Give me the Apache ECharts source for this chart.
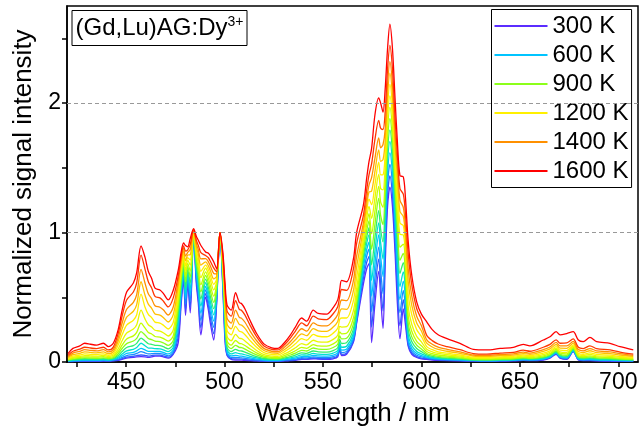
<!DOCTYPE html>
<html>
<head>
<meta charset="utf-8">
<script src="https://cdn.jsdelivr.net/npm/echarts@6/dist/echarts.min.js"></script>
<style>html,body{margin:0;padding:0;background:#fff;}#c{width:641px;height:439px;}</style>
</head>
<body>
<div id="c"></div>
<script>
// Wavelength grid (nm)
const wavelength = [420.5,423,426.5,429,432,435,438.5,441,443.5,446,
448,450.3,453.7,455.4,457.6,459.6,461.3,463,464.7,467.2,
468.9,471.4,474,476.5,478,479.2,480.2,481.3,482.6,484.3,
485.7,486.7,488,490.4,491.8,492.8,494.5,496,497.7,499.2,
500.3,501.3,503.4,505.6,507.5,508.7,510.4,513,516.3,520,
524,527,530.7,533.5,536,539.2,541.7,545.1,547.6,551.9,
555.2,557.5,558.5,559.5,562,565.4,567.1,570.5,572.2,573.4,
574.7,576.4,578.3,579.3,580.5,581.6,582.8,584,585.3,586.6,
587.8,589.1,590.8,591.8,593.3,595.1,597.6,600,602.7,605.5,
608.5,613,619.6,626.4,633.2,640,646.7,651.7,655.1,661.9,
665.3,668.4,670.4,673.8,677.1,679.7,682.2,685.6,689,695.8,
700.9,707.6];

const k300 = [0.003,0.004,0.005,0.005,0.005,0.005,0.006,0.006,0.008,0.012,
0.02,0.03,0.035,0.04,0.041,0.04,0.035,0.04,0.045,0.045,
0.04,0.03,0.06,0.15,0.45,0.63,0.36,0.60,0.38,0.97,
0.60,0.45,0.21,0.50,0.40,0.30,0.17,0.45,1.0,0.55,
0.15,0.05,0.02,0.015,0.015,0.015,0.012,0.01,0.008,0.006,
0.005,0.005,0.008,0.01,0.012,0.02,0.02,0.025,0.022,0.02,
0.025,0.04,0.10,0.05,0.06,0.15,0.30,0.60,0.72,0.76,
0.15,0.45,0.70,0.50,0.26,0.75,1.20,1.35,1.20,0.85,
0.45,0.18,0.41,0.30,0.12,0.06,0.035,0.025,0.02,0.015,
0.012,0.01,0.008,0.006,0.005,0.006,0.008,0.012,0.01,0.015,
0.03,0.06,0.03,0.02,0.08,0.015,0.01,0.01,0.008,0.006,0.005,0.005];

const k400 = [.004,.006,.007,.008,.008,.008,.009,.008,.011,.016,
.026,.038,.044,.050,.054,.052,.045,.049,.053,.053,
.047,.037,.067,.195,.482,.653,.403,.623,.426,.975,
.630,.489,.265,.528,.435,.342,.218,.472,1,.573,
.186,.056,.026,.023,.022,.022,.018,.015,.011,.008,
.007,.007,.010,.013,.016,.025,.024,.031,.027,.025,
.031,.047,.107,.059,.068,.160,.311,.643,.769,.815,
.27,.552,.794,.605,.394,.845,1.285,1.438,1.285,.933,
.55,.281,.481,.369,.132,.069,.042,.030,.026,.020,
.016,.013,.011,.008,.007,.008,.010,.015,.012,.018,
.033,.064,.034,.024,.083,.018,.013,.014,.011,.009,.007,.007];

const k500 = [.005,.008,.010,.011,.010,.010,.012,.010,.014,.022,
.035,.050,.058,.066,.08,.071,.062,.064,.066,.065,
.060,.048,.080,.240,.514,.676,.446,.646,.472,.980,
.659,.528,.320,.556,.470,.383,.267,.493,1,.596,
.222,.066,.035,.036,.033,.032,.028,.022,.017,.011,
.009,.009,.014,.018,.022,.033,.032,.040,.036,.034,
.041,.058,.118,.073,.082,.176,.328,.685,.818,.871,
.39,.654,.888,.71,.527,.94,1.371,1.526,1.371,1.017,
.65,.382,.553,.439,.152,.084,.052,.039,.032,.024,
.020,.017,.013,.010,.009,.010,.012,.017,.015,.021,
.037,.067,.037,.028,.086,.021,.016,.017,.014,.012,.010,.009];

const k600 = [.007,.011,.013,.015,.014,.014,.016,.014,.018,.029,
.047,.066,.075,.086,.106,.094,.082,.082,.082,.081,
.074,.062,.095,.284,.546,.700,.490,.670,.518,.984,
.689,.568,.376,.584,.506,.425,.315,.515,1,.620,
.258,.077,.047,.051,.046,.046,.040,.032,.023,.015,
.012,.012,.018,.024,.030,.042,.041,.051,.047,.045,
.053,.071,.132,.091,.099,.195,.349,.728,.867,.926,
.51,.757,.981,.815,.661,1.036,1.456,1.615,1.456,1.10,
.75,.482,.624,.508,.177,.103,.065,.049,.037,.029,
.024,.020,.016,.012,.010,.012,.014,.019,.017,.024,
.040,.070,.041,.032,.089,.024,.019,.021,.017,.014,.012,.010];

const k700 = [.009,.014,.017,.019,.018,.018,.020,.017,.022,.038,
.062,.086,.098,.112,.145,.125,.108,.107,.103,.101,
.094,.080,.115,.329,.578,.723,.533,.693,.564,.989,
.718,.607,.431,.612,.541,.466,.364,.536,1,.643,
.294,.093,.062,.072,.064,.063,.056,.044,.031,.021,
.017,.016,.024,.032,.040,.055,.053,.066,.061,.059,
.069,.088,.151,.114,.122,.220,.377,.771,.916,.981,
.63,.859,1.075,.92,.794,1.131,1.542,1.703,1.542,1.183,
.85,.583,.696,.577,.209,.127,.082,.063,.046,.036,
.030,.025,.020,.014,.013,.015,.018,.023,.020,.029,
.045,.076,.046,.038,.094,.029,.023,.026,.021,.018,.015,.013];

const k800 = [.012,.018,.022,.025,.024,.023,.026,.022,.027,.050,
.081,.112,.127,.144,.185,.163,.141,.137,.129,.127,
.118,.102,.139,.374,.61,.746,.576,.716,.61,.994,
.748,.646,.486,.64,.576,.508,.412,.558,1,.666,
.33,.112,.081,.098,.086,.085,.076,.060,.042,.027,
.022,.021,.032,.042,.053,.071,.067,.085,.079,.076,
.088,.110,.174,.143,.150,.252,.412,.814,.965,1.037,
.75,.961,1.169,1.025,.928,1.226,1.627,1.791,1.627,1.267,
.95,.684,.767,.647,.250,.158,.104,.080,.055,.043,
.036,.030,.024,.017,.016,.018,.021,.027,.024,.034,
.050,.081,.052,.044,.099,.034,.028,.032,.026,.023,.019,.016];

const k900 = [.015,.023,.028,.032,.030,.029,.032,.027,.034,.064,
.104,.142,.162,.183,.235,.209,.181,.173,.161,.157,
.148,.129,.169,.419,.642,.769,.619,.739,.656,.999,
.778,.685,.541,.668,.611,.550,.460,.580,1,.689,
.366,.136,.104,.129,.113,.111,.100,.078,.055,.036,
.028,.027,.040,.054,.069,.090,.085,.108,.100,.097,
.112,.137,.201,.178,.183,.291,.454,.856,1.014,1.092,
.87,1.063,1.263,1.13,1.062,1.321,1.712,1.879,1.712,1.35,
1.05,.785,.838,.716,.298,.194,.130,.101,.066,.053,
.044,.037,.030,.021,.019,.022,.025,.032,.028,.040,
.056,.088,.059,.052,.105,.040,.034,.039,.032,.028,.023,.019];

const k1000 = [.019,.029,.035,.040,.038,.037,.041,.034,.042,.081,
.130,.178,.202,.229,.30,.263,.228,.216,.197,.193,
.182,.161,.204,.464,.674,.792,.662,.762,.702,1.004,
.807,.724,.596,.696,.646,.591,.509,.601,1,.712,
.402,.163,.130,.166,.144,.141,.127,.100,.070,.045,
.036,.034,.051,.068,.087,.113,.106,.134,.124,.122,
.140,.168,.233,.218,.222,.336,.503,.899,1.063,1.147,
.99,1.165,1.357,1.235,1.195,1.416,1.798,1.967,1.798,1.433,
1.15,.886,.91,.785,.355,.237,.160,.125,.081,.064,
.054,.046,.037,.025,.024,.027,.030,.038,.034,.048,
.065,.097,.068,.062,.112,.048,.041,.048,.039,.035,.029,.024];

const k1100 = [.023,.036,.043,.050,.047,.045,.051,.042,.052,.102,
.164,.224,.254,.287,.40,.333,.288,.270,.245,.239,
.226,.201,.249,.508,.706,.816,.706,.786,.748,1.008,
.837,.764,.652,.724,.682,.633,.557,.623,1,.736,
.438,.198,.164,.213,.184,.180,.163,.128,.089,.057,
.045,.043,.064,.086,.110,.142,.132,.168,.156,.153,
.175,.207,.275,.270,.273,.393,.566,.942,1.112,1.202,
1.11,1.268,1.45,1.34,1.329,1.512,1.883,2.056,1.883,1.516,
1.25,.986,.981,.854,.428,.292,.198,.156,.098,.079,
.066,.056,.045,.031,.029,.033,.036,.046,.041,.057,
.075,.107,.079,.074,.122,.057,.050,.059,.048,.043,.036,.029];

const k1200 = [.028,.045,.054,.062,.059,.057,.063,.052,.064,.131,
.210,.285,.323,.365,.525,.425,.368,.343,.308,.301,
.285,.255,.308,.548,.734,.836,.743,.806,.788,1.013,
.863,.798,.700,.749,.712,.669,.600,.642,1,.756,
.470,.245,.210,.275,.238,.233,.211,.165,.114,.073,
.058,.055,.082,.110,.141,.180,.168,.213,.199,.195,
.223,.260,.330,.340,.340,.470,.650,.984,1.161,1.258,
1.215,1.37,1.544,1.445,1.446,1.607,1.969,2.144,1.969,1.60,
1.338,1.075,1.053,.924,.525,.365,.250,.198,.119,.095,
.079,.068,.054,.037,.035,.040,.044,.054,.049,.068,
.086,.119,.091,.088,.132,.068,.060,.071,.059,.053,.043,.035];

const k1300 = [.035,.057,.067,.078,.074,.071,.078,.064,.079,.160,
.256,.346,.392,.443,.62,.517,.447,.415,.371,.362,
.344,.309,.368,.587,.762,.856,.781,.826,.829,1.017,
.889,.832,.748,.773,.743,.706,.642,.661,1,.776,
.501,.292,.256,.337,.291,.285,.259,.202,.139,.089,
.070,.067,.099,.134,.172,.218,.203,.258,.241,.237,
.270,.313,.385,.410,.407,.547,.734,1.027,1.21,1.313,
1.32,1.472,1.638,1.55,1.563,1.702,2.054,2.232,2.054,1.683,
1.425,1.163,1.124,.993,.622,.438,.302,.239,.145,.116,
.097,.083,.067,.046,.043,.049,.053,.065,.059,.082,
.101,.135,.107,.106,.146,.082,.073,.087,.072,.065,.054,.043];

const k1400 = [.043,.069,.082,.095,.090,.086,.095,.078,.096,.188,
.301,.407,.461,.521,.716,.610,.527,.488,.434,.423,
.403,.363,.427,.626,.79,.877,.819,.847,.869,1.021,
.915,.867,.797,.798,.774,.742,.684,.68,1,.797,
.533,.339,.301,.400,.344,.337,.307,.239,.165,.105,
.083,.079,.117,.158,.203,.257,.238,.303,.283,.279,
.317,.366,.440,.479,.474,.624,.818,1.07,1.259,1.368,
1.425,1.574,1.732,1.655,1.68,1.797,2.139,2.32,2.139,1.766,
1.513,1.251,1.195,1.062,.719,.511,.353,.280,.171,.137,
.115,.098,.079,.054,.051,.058,.063,.077,.069,.096,
.116,.151,.124,.124,.160,.096,.086,.104,.086,.078,.064,.051];

const k1500 = [.051,.083,.099,.114,.108,.103,.114,.093,.115,.221,
.354,.479,.541,.612,.826,.718,.620,.572,.507,.495,
.471,.426,.497,.665,.818,.897,.857,.867,.909,1.025,
.940,.901,.845,.822,.805,.778,.727,.698,1,.817,
.564,.393,.354,.473,.407,.398,.362,.283,.195,.124,
.097,.093,.137,.186,.239,.302,.280,.355,.333,.328,
.373,.427,.505,.560,.553,.713,.916,1.131,1.329,1.447,
1.53,1.72,1.866,1.805,1.796,1.933,2.261,2.446,2.261,1.885,
1.60,1.339,1.297,1.161,.833,.597,.413,.329,.206,.165,
.139,.119,.095,.065,.061,.069,.075,.091,.083,.114,
.136,.171,.145,.148,.179,.114,.104,.125,.103,.094,.077,.061];

const k1600 = [0.065,0.105,0.125,0.145,0.137,0.131,0.145,0.118,0.145,0.25,
0.40,0.54,0.61,0.69,0.896,0.81,0.70,0.645,0.57,0.556,
0.53,0.48,0.556,0.71,0.85,0.92,0.90,0.89,0.955,1.03,
0.97,0.94,0.90,0.85,0.84,0.82,0.775,0.72,1.0,0.84,
0.60,0.44,0.40,0.535,0.46,0.45,0.41,0.32,0.22,0.14,
0.11,0.105,0.155,0.21,0.27,0.34,0.315,0.40,0.375,0.37,
0.42,0.48,0.56,0.63,0.62,0.79,1.0,1.21,1.42,1.55,
1.65,1.91,2.04,2.00,1.93,2.11,2.42,2.61,2.42,2.04,
1.70,1.44,1.43,1.29,0.93,0.67,0.465,0.37,0.31,0.25,
0.21,0.18,0.144,0.098,0.093,0.105,0.113,0.136,0.124,0.17,
0.195,0.234,0.21,0.22,0.234,0.17,0.157,0.19,0.157,0.144,0.118,0.093];

const seriesNames = ['300 K','400 K','500 K','600 K','700 K','800 K','900 K',
  '1000 K','1100 K','1200 K','1300 K','1400 K','1500 K','1600 K'];
const seriesValues = [k300,k400,k500,k600,k700,k800,k900,k1000,k1100,k1200,k1300,k1400,k1500,k1600];
const lineColors = ['#5b2cff','#3058ff','#1a8cff','#00c4ff','#00e0d0','#30ef70','#8cff1a',
  '#c0ff00','#e8f800','#fff000','#ffc000','#ff9000','#ff3800','#ff0000'];
const legendNames = ['300 K','600 K','900 K','1200 K','1400 K','1600 K'];
const xTickValues = [425,450,475,500,525,550,575,600,625,650,675,700];
const xLabelValues = [450,500,550,600,650,700];
const yTickValues = [0,0.5,1,1.5,2,2.5];
const yLabelValues = [0,1,2];
const gridLineValues = [1,2];

const F = 'Liberation Sans, Arial, Helvetica, sans-serif';
const chart = echarts.init(document.getElementById('c'), null, {renderer:'canvas'});

const series = seriesNames.map((name, si) => {
  const s = {
    name: name,
    type: 'line',
    symbol: 'none',
    showSymbol: false,
    smooth: 0.3,
    animation: false,
    silent: true,
    lineStyle: {width: 1.3, color: lineColors[si]},
    itemStyle: {color: lineColors[si]},
    data: wavelength.map((w, i) => [w, seriesValues[si][i]])
  };
  if (si === 0) {
    s.markLine = {
      silent: true, symbol: 'none', animation: false,
      label: {show: false},
      lineStyle: {type: [4, 3], color: '#999', width: 1},
      data: gridLineValues.map(v => ({yAxis: v}))
    };
  }
  return s;
});

chart.setOption({
  animation: false,
  backgroundColor: '#fff',
  title: {
    text: '{a|(Gd,Lu)AG:Dy}{b|3+}',
    left: 71.5, top: 10,
    padding: [5, 4, 5, 4],
    borderColor: '#000', borderWidth: 1,
    textStyle: {
      fontWeight: 'normal',
      rich: {
        a: {fontSize: 24, fontFamily: F, fontWeight: 'normal', color: '#000', lineHeight: 27},
        b: {fontSize: 14, fontFamily: F, fontWeight: 'normal', color: '#000', verticalAlign: 'top', lineHeight: 16}
      }
    }
  },
  legend: {
    data: legendNames,
    orient: 'vertical',
    left: 491.5, top: 9.5,
    padding: [4.5, 3, 4.5, 3],
    borderColor: '#000', borderWidth: 1,
    icon: 'rect',
    itemWidth: 53, itemHeight: 2, itemGap: 5,
    selectedMode: false,
    textStyle: {fontSize: 24, fontFamily: F, color: '#000', lineHeight: 24}
  },
  grid: {left: 67, right: 3, top: 6, bottom: 77, show: true, borderColor: '#000', borderWidth: 1.5, backgroundColor: 'transparent'},
  xAxis: {
    type: 'value', min: 420, max: 710,
    name: 'Wavelength / nm', nameLocation: 'middle', nameGap: 39,
    nameTextStyle: {fontSize: 26, fontFamily: F, color: '#000'},
    axisLine: {show: true, lineStyle: {color: '#000', width: 1.5}},
    axisTick: {show: true, customValues: xTickValues, length: 5, lineStyle: {color: '#000', width: 1.5}},
    axisLabel: {customValues: xLabelValues, fontSize: 23, fontFamily: F, color: '#000', margin: 9},
    splitLine: {show: false}
  },
  yAxis: {
    type: 'value', min: 0, max: 2.75,
    name: 'Normalized signal intensity', nameLocation: 'middle', nameGap: 29,
    nameTextStyle: {fontSize: 26, fontFamily: F, color: '#000'},
    axisLine: {show: true, lineStyle: {color: '#000', width: 1.5}},
    axisTick: {show: true, customValues: yTickValues, length: 5, lineStyle: {color: '#000', width: 1.5}},
    axisLabel: {customValues: yLabelValues, fontSize: 23, fontFamily: F, color: '#000', margin: 6},
    splitLine: {show: false}
  },
  series: series
});
</script>
</body>
</html>
